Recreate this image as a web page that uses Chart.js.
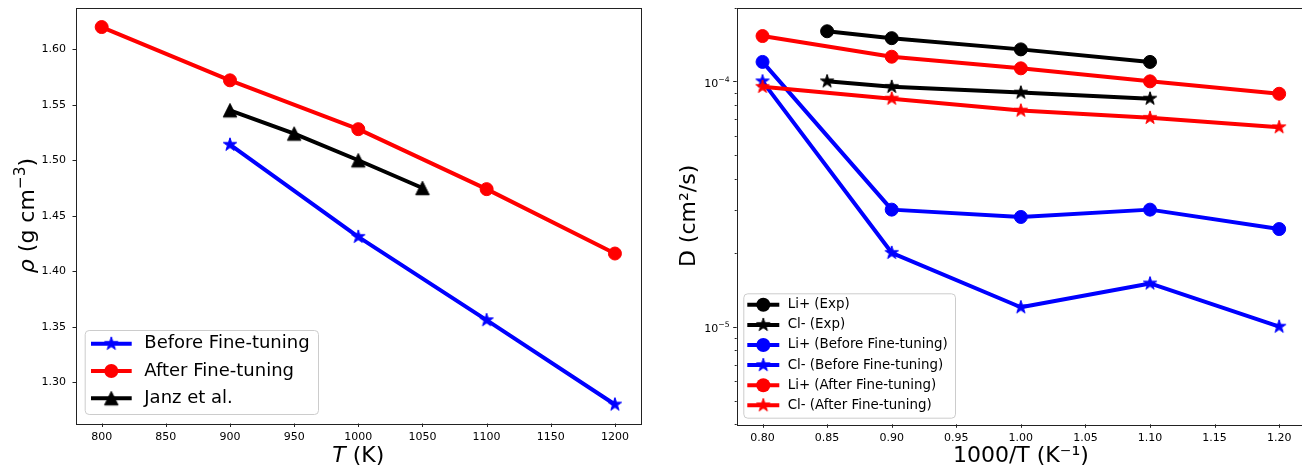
<!DOCTYPE html>
<html>
<head>
<meta charset="utf-8">
<script src="https://cdn.jsdelivr.net/npm/chart.js@4.4.1/dist/chart.umd.min.js"></script>
<style>
html, body { margin: 0; padding: 0; background: #fff; overflow: hidden; width: 1302px; height: 467px; }
#left, #right { position: absolute; top: 0; }
#left { left: 0; }
#right { left: 670px; }
</style>
</head>
<body>
<div id="left"><canvas id="densityChart" width="660" height="467"></canvas></div>
<div id="right"><canvas id="diffChart" width="700" height="467"></canvas></div>
<script>
// left panel: density vs temperature
const beforeT = [900, 1000, 1100, 1200];
const beforeRho = [1.514, 1.431, 1.356, 1.280];
const afterT = [800, 900, 1000, 1100, 1200];
const afterRho = [1.620, 1.572, 1.528, 1.474, 1.416];
const janzT = [900, 950, 1000, 1050];
const janzRho = [1.545, 1.524, 1.500, 1.475];
const tempTicks = [800, 850, 900, 950, 1000, 1050, 1100, 1150, 1200];
const rhoTicks = [1.30, 1.35, 1.40, 1.45, 1.50, 1.55, 1.60];

// right panel: diffusion coefficient vs 1000/T
const expInvT = [0.85, 0.90, 1.00, 1.10];
const liExp = [1.60e-4, 1.50e-4, 1.35e-4, 1.20e-4];
const clExp = [1.00e-4, 9.5e-5, 9.0e-5, 8.5e-5];
const simInvT = [0.80, 0.90, 1.00, 1.10, 1.20];
const liBefore = [1.20e-4, 3.0e-5, 2.8e-5, 3.0e-5, 2.5e-5];
const clBefore = [1.00e-4, 2.0e-5, 1.2e-5, 1.5e-5, 1.0e-5];
const liAfter = [1.53e-4, 1.26e-4, 1.13e-4, 1.00e-4, 8.9e-5];
const clAfter = [9.5e-5, 8.5e-5, 7.6e-5, 7.1e-5, 6.5e-5];
const invTTicks = [0.80, 0.85, 0.90, 0.95, 1.00, 1.05, 1.10, 1.15, 1.20];
const dMajorTicks = [1e-5, 1e-4];
const dMajorExp = ['\u22125', '\u22124'];
const dMinorTicks = [4e-6, 5e-6, 6e-6, 7e-6, 8e-6, 9e-6, 2e-5, 3e-5, 4e-5, 5e-5, 6e-5, 7e-5, 8e-5, 9e-5, 2e-4];

const FONT = '"DejaVu Sans", sans-serif';
const TICK_SIZE = 11;
const BLUE = '#0000ff', RED = '#ff0000', BLACK = '#000000';

// matplotlib-like filled markers
function starMarker(color, R) {
    const s = Math.ceil(2 * R + 4);
    const c = document.createElement('canvas');
    c.width = c.height = s;
    const g = c.getContext('2d');
    const r = R * 0.381966;
    g.beginPath();
    for (let i = 0; i < 10; i++) {
        const rad = i % 2 === 0 ? R : r;
        const a = -Math.PI / 2 + i * Math.PI / 5;
        g.lineTo(s / 2 + rad * Math.cos(a), s / 2 + rad * Math.sin(a));
    }
    g.closePath();
    g.fillStyle = color; g.fill();
    g.strokeStyle = color; g.lineWidth = 1; g.stroke();
    return c;
}
function triangleMarker(color, size) {
    const s = Math.ceil(size + 4);
    const c = document.createElement('canvas');
    c.width = c.height = s;
    const g = c.getContext('2d');
    const h = size / 2;
    g.beginPath();
    g.moveTo(s / 2, s / 2 - h);
    g.lineTo(s / 2 - h, s / 2 + h);
    g.lineTo(s / 2 + h, s / 2 + h);
    g.closePath();
    g.fillStyle = color; g.fill();
    g.strokeStyle = color; g.lineWidth = 1; g.stroke();
    return c;
}

function series(label, xs, ys, color, style, order) {
    return {
        label: label,
        data: xs.map((x, i) => ({ x: x, y: ys[i] })),
        borderColor: color, backgroundColor: color, borderWidth: 4,
        borderJoinStyle: 'round',
        pointStyle: style, pointRadius: 6.5, pointHoverRadius: 6.5,
        pointBackgroundColor: color, pointBorderColor: color, pointBorderWidth: 1,
        tension: 0, fill: false, order: order
    };
}

// positions of legends / axis titles per canvas
const panelDecor = {
    densityChart: {
        xTitle: [{ text: 'T', italic: true }, { text: ' (K)' }], xTitleBase: 462,
        yTitle: [{ text: '\u03C1', italic: true }, { text: ' (g cm' }, { text: '\u22123', sup: true }, { text: ')' }], yTitleBase: 34,
        legend: { x: 84.7, y: 330, w: 233.3, h: 84, rowY0: 343.8, rowStep: 27.2, lineX0: 91, lineX1: 131.7, markerX: 111.3, textX: 144.3, fontSize: 18 }
    },
    diffChart: {
        xTitle: [{ text: '1000/T (K\u207B\u00B9)' }], xTitleBase: 462,
        yTitle: [{ text: 'D (cm\u00B2/s)' }], yTitleBase: 25,
        powerTicks: true,
        legend: { x: 73.3, y: 293.3, w: 211.7, h: 124.4, rowY0: 304.8, rowStep: 20.1, lineX0: 77.3, lineX1: 109.3, markerX: 93.3, textX: 117.7, fontSize: 13.4 }
    }
};

function drawRich(ctx, segs, x, y, rot, size) {
    const fontFor = s => (s.italic ? 'italic ' : '') + (s.sup ? size * 0.7 : size) + 'px ' + FONT;
    const widths = segs.map(s => { ctx.font = fontFor(s); return ctx.measureText(s.text).width; });
    const total = widths.reduce((p, w) => p + w, 0);
    ctx.save();
    ctx.translate(x, y);
    ctx.rotate(rot);
    ctx.fillStyle = '#000';
    ctx.textBaseline = 'alphabetic';
    ctx.textAlign = 'left';
    let cx = -total / 2;
    segs.forEach((s, i) => {
        ctx.font = fontFor(s);
        ctx.fillText(s.text, cx, s.sup ? -size * 0.4 : 0);
        cx += widths[i];
    });
    ctx.restore();
}

function roundRectPath(ctx, x, y, w, h, r) {
    ctx.beginPath();
    ctx.moveTo(x + r, y);
    ctx.arcTo(x + w, y, x + w, y + h, r);
    ctx.arcTo(x + w, y + h, x, y + h, r);
    ctx.arcTo(x, y + h, x, y, r);
    ctx.arcTo(x, y, x + w, y, r);
    ctx.closePath();
}

const mplDecor = {
    id: 'mplDecor',
    afterDatasetsDraw(chart) {
        const cfg = panelDecor[chart.canvas.id];
        const ctx = chart.ctx, a = chart.chartArea;
        const xs = chart.scales.x, ys = chart.scales.y;
        ctx.save();
        // tick marks (outside)
        ctx.strokeStyle = '#222';
        ctx.lineWidth = 1;
        ctx.beginPath();
        xs.ticks.forEach(t => {
            const px = Math.round(xs.getPixelForValue(t.value)) + 0.5;
            ctx.moveTo(px, a.bottom); ctx.lineTo(px, a.bottom + 3.5);
        });
        ys.ticks.forEach(t => {
            const py = Math.round(ys.getPixelForValue(t.value)) + 0.5;
            ctx.moveTo(a.left, py); ctx.lineTo(a.left - (t.minor ? 2 : 3.5), py);
        });
        ctx.stroke();
        // frame
        ctx.strokeRect(Math.round(a.left) + 0.5, Math.round(a.top) + 0.5,
            Math.round(a.right - a.left), Math.round(a.bottom - a.top));
        // 10^n labels of the log axis
        if (cfg.powerTicks) {
            ctx.fillStyle = '#000';
            ctx.textBaseline = 'alphabetic';
            ctx.textAlign = 'left';
            dMajorTicks.forEach((v, i) => {
                const py = ys.getPixelForValue(v);
                ctx.font = TICK_SIZE + 'px ' + FONT;
                const w1 = ctx.measureText('10').width;
                ctx.font = (TICK_SIZE * 0.7) + 'px ' + FONT;
                const w2 = ctx.measureText(dMajorExp[i]).width;
                const x0 = a.left - 7 - w1 - w2;
                ctx.font = TICK_SIZE + 'px ' + FONT;
                ctx.fillText('10', x0, py + 5.5);
                ctx.font = (TICK_SIZE * 0.7) + 'px ' + FONT;
                ctx.fillText(dMajorExp[i], x0 + w1, py + 0.5);
            });
        }
        // axis titles
        drawRich(ctx, cfg.xTitle, (a.left + a.right) / 2, cfg.xTitleBase, 0, 22);
        drawRich(ctx, cfg.yTitle, cfg.yTitleBase, (a.top + a.bottom) / 2, -Math.PI / 2, 22);
        // legend
        const L = cfg.legend;
        roundRectPath(ctx, L.x + 0.5, L.y + 0.5, L.w, L.h, 4);
        ctx.fillStyle = 'rgba(255,255,255,0.8)';
        ctx.fill();
        ctx.strokeStyle = '#cccccc';
        ctx.lineWidth = 1;
        ctx.stroke();
        chart.data.datasets.forEach((ds, i) => {
            const y = L.rowY0 + i * L.rowStep;
            ctx.strokeStyle = ds.borderColor;
            ctx.lineWidth = 4;
            ctx.lineCap = 'butt';
            ctx.beginPath(); ctx.moveTo(L.lineX0, y); ctx.lineTo(L.lineX1, y); ctx.stroke();
            if (typeof ds.pointStyle === 'object') {
                const img = ds.pointStyle;
                ctx.drawImage(img, L.markerX - img.width / 2, y - img.height / 2);
            } else {
                ctx.fillStyle = ds.borderColor;
                ctx.beginPath(); ctx.arc(L.markerX, y, ds.pointRadius + 0.5, 0, Math.PI * 2); ctx.fill();
            }
            ctx.fillStyle = '#000';
            ctx.font = L.fontSize + 'px ' + FONT;
            ctx.textBaseline = 'middle';
            ctx.textAlign = 'left';
            ctx.fillText(ds.label, L.textX, y);
        });
        ctx.restore();
    }
};

const tickFont = { family: FONT, size: TICK_SIZE };
const noGrid = { display: false, drawTicks: false };
const noPad = s => { s.paddingTop = 0; s.paddingBottom = 0; s.paddingLeft = 0; s.paddingRight = 0; };

new Chart(document.getElementById('densityChart'), {
    type: 'line',
    data: {
        datasets: [
            series('Before Fine-tuning', beforeT, beforeRho, BLUE, starMarker(BLUE, 7), 2),
            series('After Fine-tuning', afterT, afterRho, RED, 'circle', 1),
            series('Janz et al.', janzT, janzRho, BLACK, triangleMarker(BLACK, 13.5), 0)
        ]
    },
    options: {
        responsive: false, animation: false, devicePixelRatio: 1,
        layout: { padding: { top: 5, right: 19.4, left: 0, bottom: 0 } },
        plugins: { legend: { display: false }, tooltip: { enabled: false } },
        scales: {
            x: {
                type: 'linear', min: 780, max: 1220,
                grid: noGrid, border: { display: false },
                afterBuildTicks: s => { s.ticks = tempTicks.map(v => ({ value: v })); },
                afterFit: s => { s.height = 43.5; noPad(s); },
                ticks: { padding: 7, color: '#000', font: tickFont, autoSkip: false, maxRotation: 0, callback: v => String(v) }
            },
            y: {
                type: 'linear', min: 1.2629, max: 1.6376,
                grid: noGrid, border: { display: false },
                afterBuildTicks: s => { s.ticks = rhoTicks.map(v => ({ value: v })); },
                afterFit: s => { s.width = 76; noPad(s); },
                ticks: { padding: 10, color: '#000', font: tickFont, autoSkip: false, callback: v => v.toFixed(2) }
            }
        }
    },
    plugins: [mplDecor]
});

new Chart(document.getElementById('diffChart'), {
    type: 'line',
    data: {
        datasets: [
            series('Li+ (Exp)', expInvT, liExp, BLACK, 'circle', 5),
            series('Cl- (Exp)', expInvT, clExp, BLACK, starMarker(BLACK, 7), 4),
            series('Li+ (Before Fine-tuning)', simInvT, liBefore, BLUE, 'circle', 3),
            series('Cl- (Before Fine-tuning)', simInvT, clBefore, BLUE, starMarker(BLUE, 7), 2),
            series('Li+ (After Fine-tuning)', simInvT, liAfter, RED, 'circle', 1),
            series('Cl- (After Fine-tuning)', simInvT, clAfter, RED, starMarker(RED, 7), 0)
        ]
    },
    options: {
        responsive: false, animation: false, devicePixelRatio: 1,
        layout: { padding: { top: 5, right: 65, left: 0, bottom: 0 } },
        plugins: { legend: { display: false }, tooltip: { enabled: false } },
        scales: {
            x: {
                type: 'linear', min: 0.78, max: 1.22,
                grid: noGrid, border: { display: false },
                afterBuildTicks: s => { s.ticks = invTTicks.map(v => ({ value: v })); },
                afterFit: s => { s.height = 42.7; noPad(s); },
                ticks: { padding: 7, color: '#000', font: tickFont, autoSkip: false, maxRotation: 0, callback: v => v.toFixed(2) }
            },
            y: {
                type: 'logarithmic', min: 4e-6, max: 2e-4,
                grid: noGrid, border: { display: false },
                afterBuildTicks: s => {
                    s.ticks = dMinorTicks.map(v => ({ value: v, minor: true }))
                        .concat(dMajorTicks.map(v => ({ value: v, minor: false })))
                        .sort((p, q) => p.value - q.value);
                },
                afterFit: s => { s.width = 66.7; noPad(s); },
                ticks: { padding: 7, color: '#000', font: tickFont, autoSkip: false, callback: () => '' }
            }
        }
    },
    plugins: [mplDecor]
});
</script>
</body>
</html>
